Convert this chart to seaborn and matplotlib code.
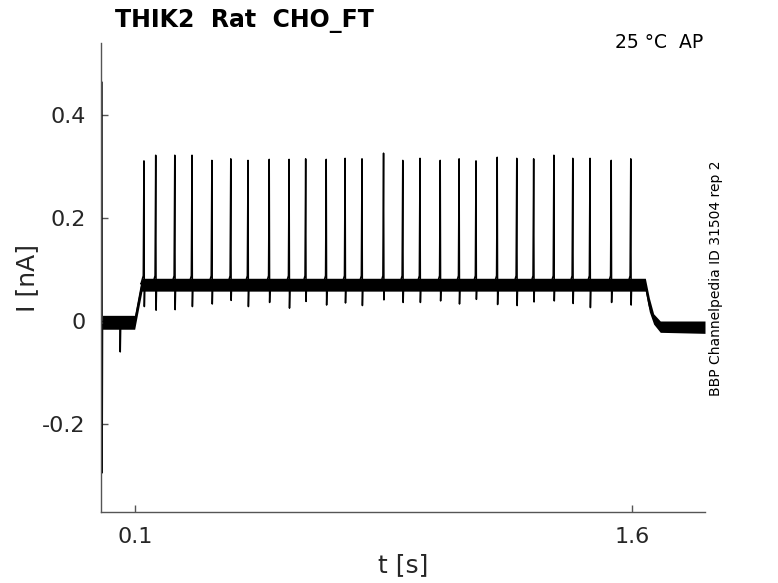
import numpy as np
import pandas as pd
import seaborn as sns
import matplotlib
matplotlib.use("Agg")
import matplotlib.pyplot as plt

# spike times [s], peak and trough currents [nA]
spike_t = [0.127, 0.1625, 0.220, 0.272, 0.332, 0.389, 0.441, 0.505, 0.565,
           0.615, 0.677, 0.734, 0.785, 0.850, 0.908, 0.960, 1.021, 1.078,
           1.129, 1.193, 1.252, 1.303, 1.364, 1.421, 1.473, 1.537, 1.596]
spike_peak = [0.311, 0.322, 0.322, 0.322, 0.312, 0.315, 0.312, 0.314, 0.314,
              0.315, 0.314, 0.316, 0.315, 0.326, 0.312, 0.316, 0.312, 0.315,
              0.311, 0.318, 0.316, 0.315, 0.322, 0.316, 0.316, 0.312, 0.315]
spike_trough = [0.028, 0.021, 0.022, 0.028, 0.033, 0.040, 0.028, 0.036, 0.025,
                0.038, 0.031, 0.035, 0.030, 0.041, 0.036, 0.036, 0.039, 0.033,
                0.042, 0.032, 0.030, 0.037, 0.039, 0.034, 0.026, 0.036, 0.031]

# trace before the first spike and after the step
start_t = [0.0003, 0.0008, 0.002, 0.050, 0.0545, 0.0555, 0.057, 0.099, 0.121]
start_i = [0.464, -0.295, -0.008, -0.004, -0.003, -0.060, -0.004, -0.002, 0.074]
end_t = [1.625, 1.641, 1.652, 1.665, 1.685, 1.750, 1.820]
end_i = [0.072, 0.066, 0.030, 0.004, -0.009, -0.012, -0.012]

# noise envelope of the recording
band_t = [0.002, 0.099, 0.121, 1.640, 1.652, 1.665, 1.685, 1.820]
band_lo = [-0.016, -0.016, 0.058, 0.058, 0.018, -0.006, -0.022, -0.024]
band_hi = [0.011, 0.011, 0.083, 0.083, 0.045, 0.014, 0.000, 0.000]

trace_t = list(start_t)
trace_i = list(start_i)
for t, pk, tr in zip(spike_t, spike_peak, spike_trough):
    trace_t += [t - 0.009, t - 0.002, t, t + 0.0012, t + 0.003, t + 0.006, t + 0.014]
    trace_i += [0.072, 0.088, pk, tr, 0.080, 0.060, 0.064]
trace_t += end_t
trace_i += end_i
df = pd.DataFrame({"t": trace_t, "I": trace_i})

sns.set_theme(style="ticks")
plt.rcParams["font.family"] = ["DejaVu Sans"]

fig = plt.figure(figsize=(7.78, 5.83), dpi=100)
ax = fig.add_axes([101 / 778, 1 - 512 / 583, 604 / 778, 469 / 583])

ax.fill_between(band_t, band_lo, band_hi, color="black", lw=0)
sns.lineplot(data=df, x="t", y="I", sort=False, estimator=None,
             color="black", lw=1.1, ax=ax)

ax.set_xlim(-0.0026, 1.820)
ax.set_ylim(-0.371, 0.540)
ax.set_xticks([0.1, 1.6])
ax.set_xticklabels(["0.1", "1.6"])
ax.set_yticks([0.4, 0.2, 0, -0.2])
ax.set_yticklabels(["0.4", "0.2", "0", "-0.2"])

spine_col = "#555555"
for s in ["top", "right"]:
    ax.spines[s].set_visible(False)
for s in ["left", "bottom"]:
    ax.spines[s].set_color(spine_col)
    ax.spines[s].set_linewidth(1.0)
ax.tick_params(direction="in", length=5, width=1, color=spine_col,
               labelsize=16, labelcolor="#262626", pad=11)

ax.set_xlabel("t [s]", fontsize=18, color="#262626")
ax.set_ylabel("I [nA]", fontsize=18, color="#262626")
ax.xaxis.set_label_coords(0.5, -0.088)
ax.yaxis.set_label_coords(-0.102, 0.5)

fig.text(115 / 778, 1 - 27 / 583, "THIK2  Rat  CHO_FT", fontsize=17,
         fontweight="bold", color="black", va="baseline", ha="left")
fig.text(703 / 778, 1 - 48 / 583, "25 °C  AP", fontsize=13.5,
         color="black", va="baseline", ha="right")
fig.text(716 / 778, 1 - 278 / 583, "BBP Channelpedia ID 31504 rep 2",
         fontsize=10, rotation=90, color="black", va="center", ha="center")

fig.savefig("out.png", dpi=100)
